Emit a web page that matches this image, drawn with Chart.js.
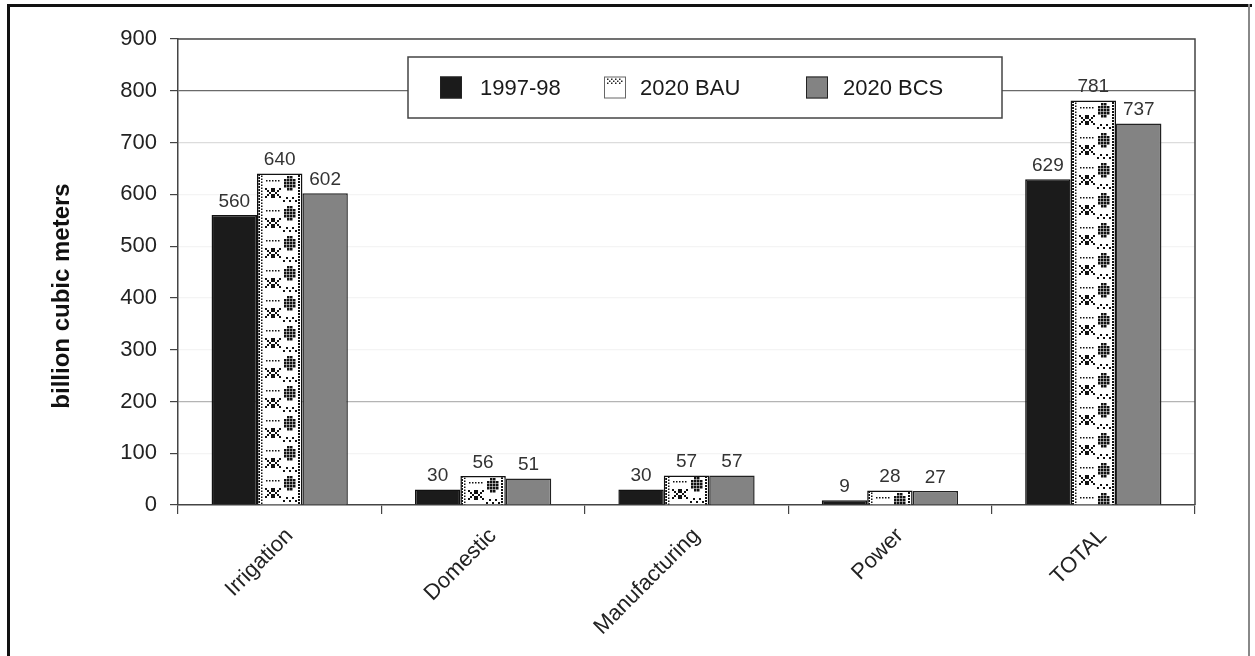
<!DOCTYPE html>
<html>
<head>
<meta charset="utf-8">
<title>Water withdrawals by sector</title>
<script src="https://cdn.jsdelivr.net/npm/chart.js@4.4.1/dist/chart.umd.min.js"></script>
<style>
  html, body { margin: 0; padding: 0; background: #fff; }
  #wrap { width: 1255px; height: 656px; position: relative; }
</style>
</head>
<body>
<div id="wrap"><canvas id="c" width="1255" height="656"></canvas></div>
<script>
// Sectors on the x axis
const categories = ['Irrigation', 'Domestic', 'Manufacturing', 'Power', 'TOTAL'];

// Withdrawals in billion cubic meters
const seriesNames = ['1997-98', '2020 BAU', '2020 BCS'];
const values1997 = [560, 30, 30, 9, 629];
const valuesBAU  = [640, 56, 57, 28, 781];
const valuesBCS  = [602, 51, 57, 27, 737];

const yTicks = [0, 100, 200, 300, 400, 500, 600, 700, 800, 900];
const yTitle = 'billion cubic meters';

const FONT = '"Liberation Sans", Arial, Helvetica, sans-serif';

// Tile for the dotted fabric-like fill of the BAU scenario
function makeDotTile() {
  const t = document.createElement('canvas');
  t.width = 45; t.height = 30;
  const g = t.getContext('2d');
  g.fillStyle = '#fff';
  g.fillRect(0, 0, t.width, t.height);
  g.fillStyle = '#111';
  const dot = (x, y, s = 2) => g.fillRect(x, y, s, s);
  // dotted edge columns
  for (let y = 0; y < 30; y += 3) { dot(1, y); dot(4, y + 1.5, 1.5); dot(41, y + 1); }
  // dark checker blob, right side
  for (let r = 0; r < 5; r++) {
    for (let c = 0; c < 4; c++) {
      const corner = (r === 0 || r === 4) && (c === 0 || c === 3);
      if (!corner) dot(27 + c * 3, 2 + r * 3, 2.5);
    }
  }
  // double cross motif, left side
  for (let i = 0; i < 5; i++) {
    dot(8 + i * 2, 14 + i * 2);
    dot(16 - i * 2, 14 + i * 2);
    dot(14 + i * 2, 14 + i * 2);
    dot(22 - i * 2, 14 + i * 2);
  }
  // dotted rule and small zigzag
  for (let x = 9; x < 22; x += 3) dot(x, 6, 1.5);
  for (let i = 0; i < 5; i++) dot(26 + i * 3, i % 2 === 0 ? 26 : 23);
  return t;
}

const dotTile = makeDotTile();
// one pattern per bar so each can be anchored at its own bar
const bauPatterns = categories.map(() => document.createElement('canvas').getContext('2d').createPattern(dotTile, 'repeat'));

// Anchors every BAU pattern at the top-left corner of its bar
const patternAnchorPlugin = {
  id: 'patternAnchor',
  beforeDatasetsDraw(chart) {
    const meta = chart.getDatasetMeta(1);
    meta.data.forEach((el, i) => {
      const p = bauPatterns[i];
      if (p && p.setTransform) {
        p.setTransform(new DOMMatrix([1, 0, 0, 1, Math.round(el.x - el.width / 2), Math.round(el.y)]));
      }
    });
  }
};

// Outer page frame and the box around the plot area
const framePlugin = {
  id: 'frame',
  beforeDraw(chart) {
    const ctx = chart.ctx;
    ctx.save();
    ctx.fillStyle = '#fff';
    ctx.fillRect(0, 0, chart.width, chart.height);
    ctx.fillStyle = '#111';
    ctx.fillRect(7, 4, 1245, 3);   // top
    ctx.fillRect(7, 4, 3, 652);    // left
    ctx.fillStyle = '#888';
    ctx.fillRect(1248, 4, 2, 652); // right
    ctx.restore();
  },
  afterDatasetsDraw(chart) {
    const a = chart.chartArea;
    const ctx = chart.ctx;
    ctx.save();
    ctx.strokeStyle = '#444';
    ctx.lineWidth = 1.5;
    ctx.beginPath();
    ctx.moveTo(a.left, a.top);
    ctx.lineTo(a.right, a.top);
    ctx.lineTo(a.right, a.bottom);
    ctx.stroke();
    ctx.restore();
  }
};

// Vertical axis title
const yTitlePlugin = {
  id: 'yTitle',
  afterDraw(chart) {
    const ctx = chart.ctx;
    ctx.save();
    ctx.translate(62, 296);
    ctx.rotate(-Math.PI / 2);
    ctx.font = 'bold 24px ' + FONT;
    ctx.fillStyle = '#111';
    ctx.textAlign = 'center';
    ctx.textBaseline = 'middle';
    ctx.fillText(yTitle, 0, 0);
    ctx.restore();
  }
};

// Numbers printed above each bar
const valueLabelPlugin = {
  id: 'valueLabels',
  afterDatasetsDraw(chart) {
    const ctx = chart.ctx;
    ctx.save();
    ctx.font = '19px ' + FONT;
    ctx.fillStyle = '#333';
    ctx.textAlign = 'center';
    ctx.textBaseline = 'bottom';
    chart.data.datasets.forEach((ds, di) => {
      chart.getDatasetMeta(di).data.forEach((el, i) => {
        ctx.fillText(String(ds.data[i]), el.x, el.y - 4);
      });
    });
    ctx.restore();
  }
};

// Boxed legend floating inside the plot area
const boxLegendPlugin = {
  id: 'boxLegend',
  afterDraw(chart) {
    const ctx = chart.ctx;
    const box = { x: 408, y: 57, w: 594, h: 61 };
    ctx.save();
    ctx.fillStyle = '#fff';
    ctx.fillRect(box.x, box.y, box.w, box.h);
    ctx.strokeStyle = '#444';
    ctx.lineWidth = 1.5;
    ctx.strokeRect(box.x, box.y, box.w, box.h);
    const swatchX = [440, 604, 806];
    const textX = [480, 640, 843];
    const cy = box.y + box.h / 2;
    ctx.font = '22px ' + FONT;
    ctx.textBaseline = 'middle';
    ctx.textAlign = 'left';
    chart.data.datasets.forEach((ds, i) => {
      const sx = swatchX[i], sy = cy - 11;
      if (i === 1) {
        // small patterned swatch: white with a checker band on top
        ctx.fillStyle = '#fff';
        ctx.fillRect(sx, sy, 22, 22);
        ctx.fillStyle = '#222';
        for (let r = 0; r < 3; r++) for (let c = 0; c < 8; c++) {
          if ((r + c) % 2 === 0) ctx.fillRect(sx + 3 + c * 2, sy + 2 + r * 2, 1.5, 1.5);
        }
        ctx.strokeStyle = '#666';
      } else {
        ctx.fillStyle = ds.backgroundColor;
        ctx.fillRect(sx, sy, 22, 22);
        ctx.strokeStyle = '#222';
      }
      ctx.lineWidth = 1;
      ctx.strokeRect(sx + 0.5, sy + 0.5, 21, 21);
      ctx.fillStyle = '#1a1a1a';
      ctx.fillText(ds.label, textX[i], cy + 1);
    });
    ctx.restore();
  }
};

function gridColor(ctx) {
  const v = ctx.tick ? ctx.tick.value : null;
  if (v === 800) return '#6a6a6a';
  if (v === 200) return '#b4b4b4';
  if (v === 700) return '#dcdcdc';
  return '#f4f4f4';
}

new Chart(document.getElementById('c'), {
  type: 'bar',
  data: {
    labels: categories,
    datasets: [
      { label: seriesNames[0], data: values1997, backgroundColor: '#1b1b1b', borderColor: '#111', borderWidth: 1.5 },
      { label: seriesNames[1], data: valuesBAU, backgroundColor: bauPatterns, borderColor: '#111', borderWidth: 1.5 },
      { label: seriesNames[2], data: valuesBCS, backgroundColor: '#838383', borderColor: '#222', borderWidth: 1.5 }
    ]
  },
  options: {
    responsive: false,
    animation: false,
    devicePixelRatio: 1,
    layout: { padding: { left: 0, top: 39, right: 60, bottom: 0 } },
    datasets: { bar: { barPercentage: 1.0, categoryPercentage: 0.67 } },
    plugins: {
      legend: { display: false },
      tooltip: { enabled: false }
    },
    scales: {
      x: {
        afterFit(scale) { scale.height = 151; },
        grid: { display: true, offset: true, drawOnChartArea: false, tickLength: 9, color: '#444', lineWidth: 1.2 },
        border: { display: true, color: '#444', width: 1.5 },
        ticks: {
          color: '#222',
          font: { family: FONT, size: 22 },
          minRotation: 45, maxRotation: 45,
          padding: 9,
          labelOffset: 10
        }
      },
      y: {
        min: 0, max: 900,
        afterFit(scale) { scale.width = 178; },
        afterBuildTicks(scale) { scale.ticks = yTicks.map(v => ({ value: v })); },
        grid: { color: gridColor, lineWidth: 1.2, tickLength: 8, tickColor: '#444', drawTicks: true },
        border: { display: true, color: '#444', width: 1.5 },
        ticks: {
          color: '#222',
          font: { family: FONT, size: 22 },
          padding: 13
        }
      }
    }
  },
  plugins: [patternAnchorPlugin, framePlugin, yTitlePlugin, valueLabelPlugin, boxLegendPlugin]
});
</script>
</body>
</html>
